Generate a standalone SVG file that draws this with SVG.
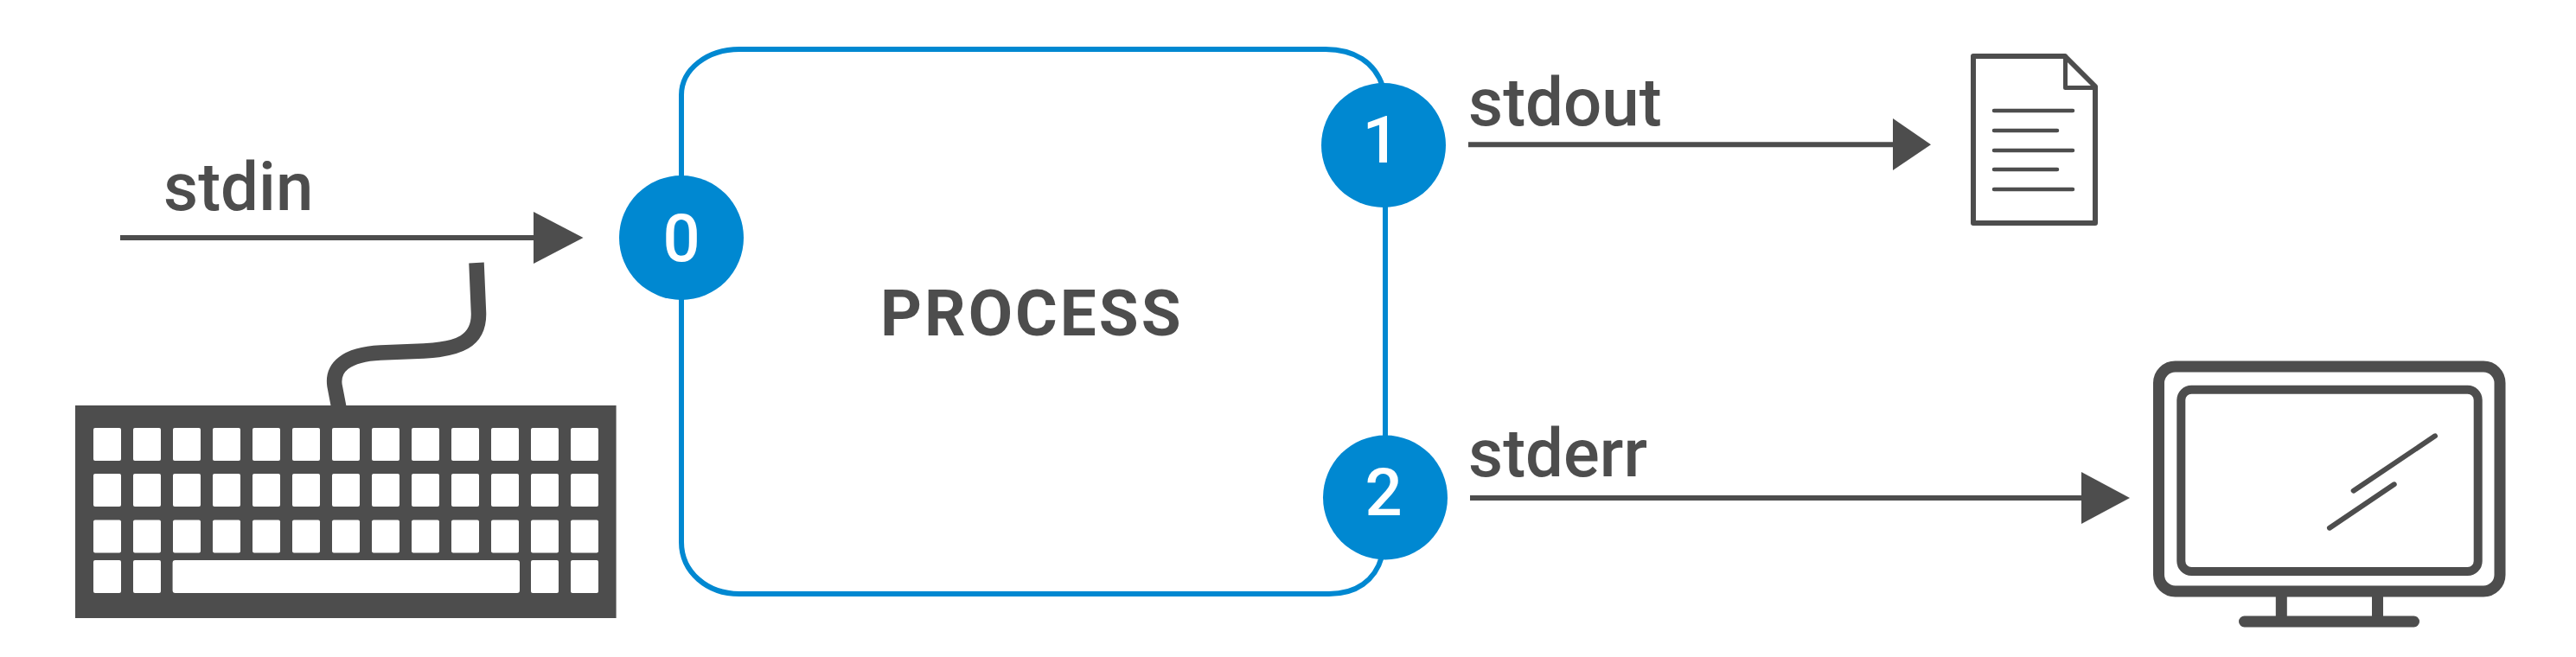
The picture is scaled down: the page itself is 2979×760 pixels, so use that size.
<svg xmlns="http://www.w3.org/2000/svg" xmlns:xlink="http://www.w3.org/1999/xlink" width="2979" height="760" viewBox="0 0 2979 760">
<style>
text{font-family:Roboto,"Liberation Sans",Arial,sans-serif;fill:#4d4d4d}
.lab{font-size:78px;font-weight:500}
.num{font-size:76px;font-weight:500;fill:#fff;text-anchor:middle}
.proc{font-size:74.500px;font-weight:700;letter-spacing:3px}
.port{fill:#0088d1}
.edge{fill:none;stroke:#0088d1;stroke-width:6}
.ln{fill:none;stroke:#4d4d4d;stroke-width:6}
.hd{fill:#4d4d4d}
.key{fill:#fff}
.ic{fill:none;stroke:#4d4d4d;stroke-linecap:round;stroke-linejoin:round}
</style>
<defs><rect id="k" class="key" width="32" height="38" rx="2"/></defs>
<rect width="2979" height="760" fill="#fff"/>
<g id="connectors">
<path class="ln" d="M139 275H620"/><polygon class="hd" points="617,245 674.500,275 617,305"/>
<path class="ln" d="M1698 167.300H2192"/><polygon class="hd" points="2189,137 2233,167.300 2189,197"/>
<path class="ln" d="M1700 576H2410"/><polygon class="hd" points="2407,546 2463,576 2407,606"/>
</g>
<g id="process">
<path class="edge" d="M788 210V110C788 80 818 57 855 57H1533C1566 57 1590 72 1599 100"/>
<path class="edge" d="M1602 235V510"/>
<path class="edge" d="M788 340V627C788 662 818 687 855 687H1537C1568 687 1590 672 1598 644"/>
<text class="proc" x="1018" y="388">PROCESS</text>
</g>
<g id="port0"><circle class="port" cx="788" cy="275" r="72"/><text class="num" x="788" y="302">0</text></g>
<g id="port1"><circle class="port" cx="1600" cy="168" r="72"/><text class="num" x="1597" y="188">1</text></g>
<g id="port2"><circle class="port" cx="1602" cy="575.500" r="72"/><text class="num" x="1600" y="596">2</text></g>
<g id="label-stdin"><text class="lab" x="189" y="243">stdin</text></g>
<g id="label-stdout"><text class="lab" x="1698" y="145">stdout</text></g>
<g id="label-stderr"><text class="lab" x="1698" y="551">stderr</text></g>
<g id="keyboard">
<path fill="none" stroke="#4d4d4d" stroke-width="17.500" d="M551 304L553.500 362C554.500 395 530 404 490 406L440 408C400 410 384 425 387 446L392 472"/>
<rect x="87" y="469" width="625.600" height="246" fill="#4d4d4d"/>
<g id="keys">
<use xlink:href="#k" x="108" y="495"/><use xlink:href="#k" x="154" y="495"/><use xlink:href="#k" x="200" y="495"/><use xlink:href="#k" x="246" y="495"/><use xlink:href="#k" x="292" y="495"/><use xlink:href="#k" x="338" y="495"/><use xlink:href="#k" x="384" y="495"/><use xlink:href="#k" x="430" y="495"/><use xlink:href="#k" x="476" y="495"/><use xlink:href="#k" x="522" y="495"/><use xlink:href="#k" x="568" y="495"/><use xlink:href="#k" x="614" y="495"/><use xlink:href="#k" x="660" y="495"/>
<use xlink:href="#k" x="108" y="548"/><use xlink:href="#k" x="154" y="548"/><use xlink:href="#k" x="200" y="548"/><use xlink:href="#k" x="246" y="548"/><use xlink:href="#k" x="292" y="548"/><use xlink:href="#k" x="338" y="548"/><use xlink:href="#k" x="384" y="548"/><use xlink:href="#k" x="430" y="548"/><use xlink:href="#k" x="476" y="548"/><use xlink:href="#k" x="522" y="548"/><use xlink:href="#k" x="568" y="548"/><use xlink:href="#k" x="614" y="548"/><use xlink:href="#k" x="660" y="548"/>
<use xlink:href="#k" x="108" y="601.500"/><use xlink:href="#k" x="154" y="601.500"/><use xlink:href="#k" x="200" y="601.500"/><use xlink:href="#k" x="246" y="601.500"/><use xlink:href="#k" x="292" y="601.500"/><use xlink:href="#k" x="338" y="601.500"/><use xlink:href="#k" x="384" y="601.500"/><use xlink:href="#k" x="430" y="601.500"/><use xlink:href="#k" x="476" y="601.500"/><use xlink:href="#k" x="522" y="601.500"/><use xlink:href="#k" x="568" y="601.500"/><use xlink:href="#k" x="614" y="601.500"/><use xlink:href="#k" x="660" y="601.500"/>
<use xlink:href="#k" x="108" y="648"/><use xlink:href="#k" x="154" y="648"/>
<rect class="key" x="199.600" y="648" width="401.400" height="38" rx="3"/>
<use xlink:href="#k" x="614" y="648"/><use xlink:href="#k" x="660" y="648"/>
</g>
</g>
<g id="document">
<path class="ic" stroke-width="6" d="M2282 65H2388L2423 100V258H2282Z"/>
<path class="ic" stroke-width="5" d="M2388.500 65V101.500H2423"/>
<path class="ic" stroke-width="4.500" d="M2306 128H2397M2306 151H2379M2306 174H2397M2306 196H2379M2306 219H2397"/>
</g>
<g id="monitor">
<rect class="ic" x="2496.500" y="424" width="394.500" height="260" rx="19" stroke-width="13"/>
<rect class="ic" x="2522.300" y="450.700" width="343.400" height="210.300" rx="12" stroke-width="10"/>
<path class="ic" stroke-width="6" d="M2721.700 567.700L2816 504.300M2694 610.700L2768.700 560.300"/>
<path class="ic" stroke-width="13" d="M2638.300 690V713M2749.500 690V713" style="stroke-linecap:butt"/>
<path class="ic" stroke-width="13" d="M2595.500 719H2791.500"/>
</g>
</svg>
